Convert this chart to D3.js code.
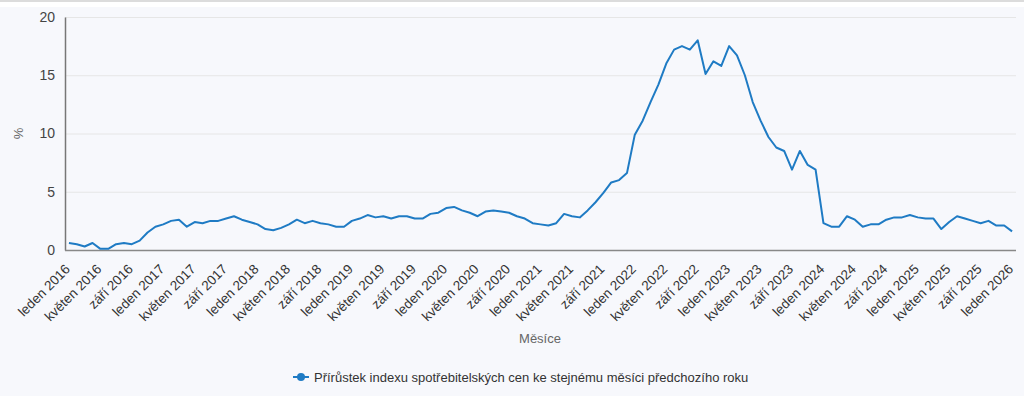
<!DOCTYPE html>
<html><head><meta charset="utf-8">
<script src="https://cdn.jsdelivr.net/npm/d3@7"></script>
<style>
html,body{margin:0;padding:0;background:#f7f8fc;}
svg{display:block;font-family:"Liberation Sans",Arial,sans-serif;}
</style></head>
<body>
<script>
const monthNames = ["leden","únor","březen","duben","květen","červen","červenec","srpen","září","říjen","listopad","prosinec"];
const years = [2016,2017,2018,2019,2020,2021,2022,2023,2024,2025,2026];
const values2016 = [0.6,0.5,0.3,0.6,0.1,0.1,0.5,0.6,0.5,0.8,1.5,2.0];
const values2017 = [2.2,2.5,2.6,2.0,2.4,2.3,2.5,2.5,2.7,2.9,2.6,2.4];
const values2018 = [2.2,1.8,1.7,1.9,2.2,2.6,2.3,2.5,2.3,2.2,2.0,2.0];
const values2019 = [2.5,2.7,3.0,2.8,2.9,2.7,2.9,2.9,2.7,2.7,3.1,3.2];
const values2020 = [3.6,3.7,3.4,3.2,2.9,3.3,3.4,3.3,3.2,2.9,2.7,2.3];
const values2021 = [2.2,2.1,2.3,3.1,2.9,2.8,3.4,4.1,4.9,5.8,6.0,6.6];
const values2022 = [9.9,11.1,12.7,14.2,16.0,17.2,17.5,17.2,18.0,15.1,16.2,15.8];
const values2023 = [17.5,16.7,15.0,12.7,11.1,9.7,8.8,8.5,6.9,8.5,7.3,6.9];
const values2024 = [2.3,2.0,2.0,2.9,2.6,2.0,2.2,2.2,2.6,2.8,2.8,3.0];
const values2025 = [2.8,2.7,2.7,1.8,2.4,2.9,2.7,2.5,2.3,2.5,2.1,2.1];
const values2026 = [1.6];
const yTicks = [0,5,10,15,20];
const seriesName = "Přírůstek indexu spotřebitelských cen ke stejnému měsíci předchozího roku";
const yTitle = "%";
const xTitle = "Měsíce";

const allValues = [values2016,values2017,values2018,values2019,values2020,values2021,values2022,values2023,values2024,values2025,values2026];
const data = [];
allValues.forEach((arr,i)=>arr.forEach((v,m)=>data.push({label: monthNames[m]+" "+years[i], m, v})));

const W=1024,H=396;
const L=65,R=1016,T=17,B=250;
const svg=d3.select("body").append("svg").attr("width",W).attr("height",H);
svg.append("rect").attr("width",W).attr("height",2).attr("fill","#dcdcdc");
svg.append("rect").attr("y",2).attr("width",W).attr("height",5).attr("fill","#ffffff");

const x=d3.scaleBand().domain(data.map(d=>d.label)).range([L,R]);
const cx=d=>x(d.label)+x.bandwidth()/2;
const y=d3.scaleLinear().domain([0,20]).range([B,T]);

// grid
svg.append("g").selectAll("line").data(yTicks.filter(t=>t>0)).join("line")
  .attr("x1",L).attr("x2",R).attr("y1",d=>y(d)+0.5).attr("y2",d=>y(d)+0.5)
  .attr("stroke","#e6e6e6").attr("stroke-width",1);

// y axis
const yAxis=svg.append("g").attr("transform",`translate(${L},0)`)
  .call(d3.axisLeft(y).tickValues(yTicks).tickSize(0).tickPadding(10));
yAxis.select(".domain").attr("stroke","#777").attr("stroke-width",1.5);
yAxis.selectAll("text").attr("font-size","14px").attr("fill","#444").attr("font-family","Liberation Sans,Arial,sans-serif");

// x axis
const tickLabels=data.filter((d,i)=>i%4===0).map(d=>d.label);
const xAxis=svg.append("g").attr("transform",`translate(0,${B})`)
  .call(d3.axisBottom(x).tickValues(tickLabels).tickSize(0).tickPadding(0));
xAxis.select(".domain").attr("stroke","#888").attr("stroke-width",1.5).attr("d",`M${L},0.5H${R}`);
xAxis.selectAll("text")
  .attr("font-size","13.5px").attr("fill","#333").attr("font-family","Liberation Sans,Arial,sans-serif")
  .attr("text-anchor","end").attr("dy",null).attr("y",null)
  .attr("transform","translate(2,20) rotate(-45)");

// titles
svg.append("text").attr("transform",`translate(23,${(T+B)/2}) rotate(-90)`)
  .attr("text-anchor","middle").attr("font-size","13px").attr("fill","#666").text(yTitle);
svg.append("text").attr("x",540).attr("y",343).attr("text-anchor","middle")
  .attr("font-size","13px").attr("fill","#666").text(xTitle);

// line
const line=d3.line().x(cx).y(d=>y(d.v));
svg.append("path").datum(data).attr("d",line).attr("fill","none")
  .attr("stroke","#1f7bc4").attr("stroke-width",2).attr("stroke-linejoin","round");

// legend
const lg=svg.append("g").attr("transform","translate(293,377)");
lg.append("line").attr("x1",0).attr("x2",16).attr("stroke","#1f7bc4").attr("stroke-width",2);
lg.append("circle").attr("cx",8).attr("r",4).attr("fill","#1f7bc4");
lg.append("text").attr("x",21).attr("y",4.5).attr("font-size","13px").attr("fill","#333").text(seriesName);
</script>
</body></html>
